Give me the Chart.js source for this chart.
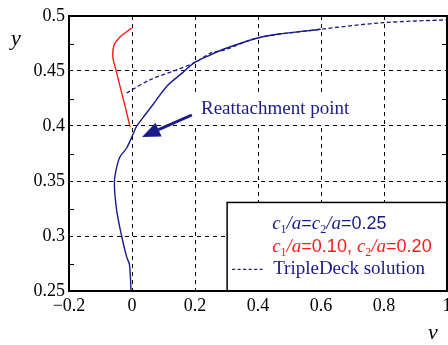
<!DOCTYPE html>
<html>
<head>
<meta charset="utf-8">
<script src="https://cdn.jsdelivr.net/npm/chart.js@4"></script>
<style>
  html, body { margin: 0; padding: 0; background: #fff; }
  #wrap { width: 448px; height: 345px; }
</style>
</head>
<body>
<div id="wrap"><canvas id="chart" width="448" height="345"></canvas></div>
<script>
const xTicks = [-0.2, 0, 0.2, 0.4, 0.6, 0.8, 1];
const xTickLabels = ['\u22120.2', '0', '0.2', '0.4', '0.6', '0.8', '1'];
const yTicks = [0.25, 0.3, 0.35, 0.4, 0.45, 0.5];
const yTickLabels = ['0.25', '0.3', '0.35', '0.4', '0.45', '0.5'];
const yMinor = [0.275, 0.325, 0.375, 0.425, 0.475];

// c1/a = c2/a = 0.25
const equalV = [-0.003, -0.008, -0.017, -0.033, -0.049, -0.056, -0.049, -0.038, -0.017, 0.004, 0.013, 0.036, 0.068, 0.11, 0.163, 0.195, 0.248, 0.292, 0.398, 0.45, 0.599];
const equalY = [0.25, 0.274, 0.281, 0.3, 0.324, 0.349, 0.362, 0.372, 0.38, 0.393, 0.399, 0.408, 0.42, 0.436, 0.449, 0.457, 0.4645, 0.47, 0.48, 0.483, 0.488];

// c1/a = 0.10, c2/a = 0.20
const unequalV = [-0.006, -0.022, -0.038, -0.051, -0.061, -0.057, -0.038, -0.001];
const unequalY = [0.399, 0.418, 0.436, 0.451, 0.463, 0.4736, 0.481, 0.489];

// triple deck solution
const deckV = [-0.017, 0.057, 0.142, 0.205, 0.248, 0.292, 0.398, 0.6, 0.8, 1.0];
const deckY = [0.43, 0.442, 0.451, 0.4585, 0.466, 0.469, 0.48, 0.488, 0.494, 0.4965];

const NAVY = '#1a1a8a';
const RED = '#ff1a1a';
const SERIF = "'Liberation Serif', 'Times New Roman', serif";
const SANS = "'Liberation Sans', Arial, sans-serif";

function pts(xs, ys) {
  return xs.map((x, i) => ({ x, y: ys[i] }));
}

function drawRich(ctx, x, y, parts) {
  for (const p of parts) {
    ctx.font = p.font;
    ctx.fillStyle = p.color;
    ctx.fillText(p.t, x, y + (p.dy || 0));
    x += ctx.measureText(p.t).width;
  }
}

const annotations = {
  id: 'annotations',
  beforeDatasetsDraw(chart) {
    const { ctx, scales: { x, y } } = chart;
    // white patch behind the label
    ctx.save();
    ctx.fillStyle = '#fff';
    const l = x.getPixelForValue(0.183), r = x.getPixelForValue(0.71);
    const t = y.getPixelForValue(0.431), b = y.getPixelForValue(0.4018);
    ctx.fillRect(l, t, r - l, b - t);
    ctx.restore();
  },
  afterDatasetsDraw(chart) {
    const { ctx, chartArea: a, scales: { x, y } } = chart;
    ctx.save();

    // minor ticks on y, both sides
    ctx.strokeStyle = '#000';
    ctx.lineWidth = 1;
    for (const v of yMinor) {
      const py = Math.round(y.getPixelForValue(v)) + 0.5;
      ctx.beginPath();
      ctx.moveTo(a.left, py); ctx.lineTo(a.left + 5, py);
      ctx.moveTo(a.right, py); ctx.lineTo(a.right - 5, py);
      ctx.stroke();
    }

    // label + arrow
    ctx.textBaseline = 'middle';
    ctx.font = '19px ' + SERIF;
    ctx.fillStyle = NAVY;
    ctx.fillText('Reattachment point', x.getPixelForValue(0.219), y.getPixelForValue(0.4155));

    const x0 = x.getPixelForValue(0.19), y0 = y.getPixelForValue(0.41);
    const x1 = x.getPixelForValue(0.032), y1 = y.getPixelForValue(0.39);
    const ang = Math.atan2(y1 - y0, x1 - x0);
    const hl = 18, hw = 7.5;
    const bx = x1 - hl * Math.cos(ang), by = y1 - hl * Math.sin(ang);
    ctx.strokeStyle = NAVY;
    ctx.lineWidth = 3;
    ctx.beginPath(); ctx.moveTo(x0, y0); ctx.lineTo(bx, by); ctx.stroke();
    ctx.fillStyle = NAVY;
    ctx.beginPath();
    ctx.moveTo(x1, y1);
    ctx.lineTo(bx + hw * Math.sin(ang), by - hw * Math.cos(ang));
    ctx.lineTo(bx - hw * Math.sin(ang), by + hw * Math.cos(ang));
    ctx.closePath(); ctx.fill();

    // legend box
    const lx = x.getPixelForValue(0.302), ly = y.getPixelForValue(0.3305);
    const lw = a.right - lx, lh = a.bottom - ly;
    ctx.fillStyle = '#fff';
    ctx.fillRect(lx, ly, lw, lh);
    ctx.strokeStyle = '#000';
    ctx.lineWidth = 1.5;
    ctx.strokeRect(lx, ly, lw, lh);

    ctx.textBaseline = 'alphabetic';
    const it = 'italic 19px ' + SERIF, sub = '12px ' + SERIF, num = '18px ' + SANS;
    const tx = lx + 45;
    drawRich(ctx, tx, ly + 27, [
      { t: 'c', font: it, color: NAVY }, { t: '1', font: sub, color: NAVY, dy: 4 },
      { t: '/a', font: it, color: NAVY }, { t: '=', font: num, color: NAVY },
      { t: 'c', font: it, color: NAVY }, { t: '2', font: sub, color: NAVY, dy: 4 },
      { t: '/a', font: it, color: NAVY }, { t: '=0.25', font: num, color: NAVY }
    ]);
    drawRich(ctx, tx, ly + 50, [
      { t: 'c', font: it, color: RED }, { t: '1', font: sub, color: RED, dy: 4 },
      { t: '/a', font: it, color: RED }, { t: '=0.10, ', font: num, color: RED },
      { t: 'c', font: it, color: RED }, { t: '2', font: sub, color: RED, dy: 4 },
      { t: '/a', font: it, color: RED }, { t: '=0.20', font: num, color: RED }
    ]);
    ctx.strokeStyle = NAVY;
    ctx.lineWidth = 1.3;
    ctx.setLineDash([3, 2.5]);
    ctx.beginPath();
    ctx.moveTo(lx + 5, ly + 67); ctx.lineTo(lx + 38, ly + 67);
    ctx.stroke();
    ctx.setLineDash([]);
    ctx.font = '19px ' + SERIF;
    ctx.fillStyle = NAVY;
    ctx.fillText('TripleDeck solution', lx + 46, ly + 72);

    // frame
    ctx.strokeStyle = '#000';
    ctx.lineWidth = 2;
    ctx.strokeRect(a.left, a.top, a.right - a.left, a.bottom - a.top);

    // axis titles
    ctx.fillStyle = '#000';
    ctx.font = 'italic 22px ' + SERIF;
    ctx.textAlign = 'center';
    ctx.textBaseline = 'middle';
    ctx.fillText('y', 16, 39);
    ctx.fillText('v', 433, 333);
    ctx.restore();
  }
};

new Chart(document.getElementById('chart'), {
  type: 'scatter',
  data: {
    datasets: [
      { data: pts(deckV, deckY), showLine: true, borderColor: NAVY, borderWidth: 1.3, borderDash: [4, 2.5], pointRadius: 0, tension: 0.3 },
      { data: pts(equalV, equalY), showLine: true, borderColor: NAVY, borderWidth: 1.4, pointRadius: 0, tension: 0.3 },
      { data: pts(unequalV, unequalY), showLine: true, borderColor: RED, borderWidth: 1.4, pointRadius: 0, tension: 0.3 }
    ]
  },
  options: {
    responsive: false,
    devicePixelRatio: 1,
    animation: false,
    layout: { padding: { top: 16, right: 1, left: 0, bottom: 0 } },
    plugins: { legend: { display: false }, tooltip: { enabled: false } },
    scales: {
      x: {
        min: -0.2, max: 1,
        afterBuildTicks: s => { s.ticks = xTicks.map(v => ({ value: v })); },
        afterFit: s => { s.height = 54; s.paddingLeft = 0; s.paddingRight = 0; },
        ticks: {
          callback: (v, i) => xTickLabels[i],
          color: '#000', font: { family: SERIF, size: 18 }, padding: 4, maxRotation: 0, autoSkip: false
        },
        grid: { color: '#000', lineWidth: 1, drawTicks: false },
        border: { display: false, dash: [4, 4] }
      },
      y: {
        min: 0.25, max: 0.5,
        afterBuildTicks: s => { s.ticks = yTicks.map(v => ({ value: v })); },
        afterFit: s => { s.width = 69; },
        ticks: {
          callback: (v, i) => yTickLabels[i],
          color: '#000', font: { family: SERIF, size: 18 }, padding: 4, autoSkip: false
        },
        grid: { color: '#000', lineWidth: 1, drawTicks: false },
        border: { display: false, dash: [4, 4] }
      }
    }
  },
  plugins: [annotations]
});
</script>
</body>
</html>
